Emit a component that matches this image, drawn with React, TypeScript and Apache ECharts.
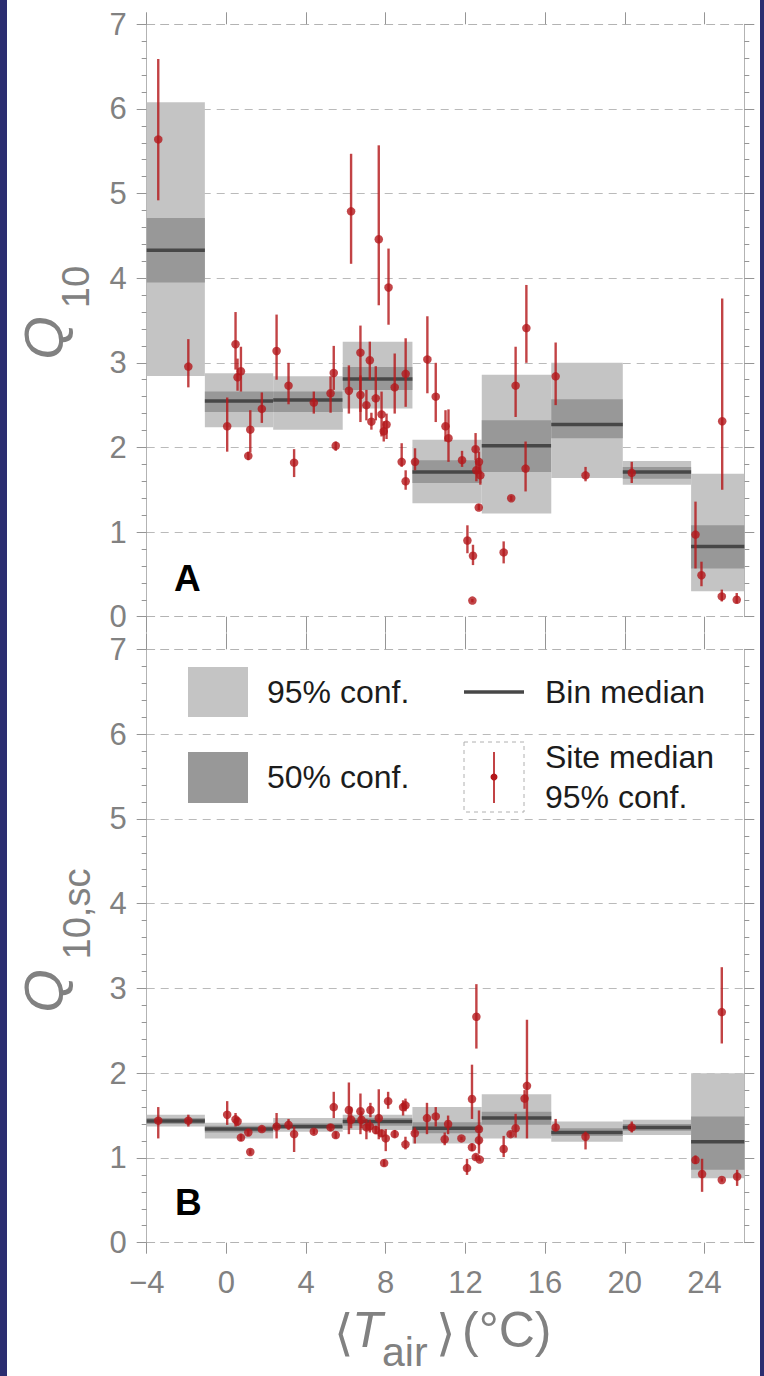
import React, { useEffect, useRef } from "react";
import * as echarts from "echarts";

const W = 764;
const H = 1376;

// Temperature bins (°C)
const binEdges = [-4, -1.08, 2.35, 5.84, 9.34, 12.82, 16.31, 19.9, 23.33, 26];

// Panel A: Q10 per bin
const q10BinMedian = [4.33, 2.55, 2.56, 2.81, 1.71, 2.02, 2.27, 1.71, 0.83];
const q10BinLo95 = [2.845, 2.24, 2.21, 2.46, 1.34, 1.22, 1.64, 1.56, 0.3];
const q10BinHi95 = [6.08, 2.876, 2.84, 3.25, 2.09, 2.86, 3.0, 1.84, 1.69];
const q10BinLo50 = [3.95, 2.42, 2.42, 2.68, 1.58, 1.71, 2.11, 1.63, 0.57];
const q10BinHi50 = [4.71, 2.66, 2.66, 2.95, 1.85, 2.32, 2.57, 1.77, 1.08];

// Panel B: Q10,sc per bin
const q10scBinMedian = [1.435, 1.34, 1.37, 1.43, 1.35, 1.47, 1.3, 1.36, 1.19];
const q10scBinLo95 = [1.37, 1.23, 1.31, 1.33, 1.17, 1.23, 1.19, 1.27, 0.76];
const q10scBinHi95 = [1.51, 1.415, 1.47, 1.51, 1.6, 1.75, 1.43, 1.45, 2.0];
const q10scBinLo50 = [1.4, 1.3, 1.34, 1.38, 1.29, 1.39, 1.26, 1.32, 0.86];
const q10scBinHi50 = [1.47, 1.38, 1.41, 1.47, 1.42, 1.545, 1.35, 1.4, 1.49];

// Panel A: site medians with 95% intervals
const siteTempA = [-3.42, -1.91, 0.04, 0.46, 0.56, 0.73, 1.1, 1.2, 1.78, 2.52, 3.12, 3.4, 4.39, 5.23, 5.39, 5.49, 6.15, 6.26, 6.73, 6.73, 7.03, 7.2, 7.28, 7.5, 7.65, 7.79, 7.9, 8.04, 8.14, 8.45, 8.8, 9.0, 9.0, 9.47, 10.09, 10.51, 11.0, 11.15, 11.83, 12.1, 12.35, 12.38, 12.51, 12.55, 12.68, 12.75, 12.67, 13.92, 14.3, 14.52, 15.02, 15.06, 16.53, 18.03, 20.35, 23.55, 23.85, 24.89, 24.87, 25.62];
const siteQ10 = [5.64, 2.955, 2.25, 3.22, 2.83, 2.9, 1.9, 2.21, 2.455, 3.14, 2.73, 1.82, 2.53, 2.64, 2.88, 2.02, 2.67, 4.79, 3.12, 2.62, 2.5, 3.03, 2.305, 2.58, 4.46, 2.39, 2.19, 2.27, 3.89, 2.71, 1.83, 2.87, 1.6, 1.83, 3.04, 2.6, 2.25, 2.11, 1.85, 0.9, 0.19, 0.72, 1.98, 1.73, 1.83, 1.67, 1.29, 0.76, 1.4, 2.73, 1.75, 3.41, 2.84, 1.67, 1.7, 0.97, 0.49, 2.31, 0.24, 0.2];
const siteQ10Lo = [4.92, 2.71, 1.95, 2.92, 2.67, 2.66, 1.85, 1.94, 2.29, 2.8, 2.51, 1.65, 2.4, 2.41, 2.68, 1.96, 2.4, 4.17, 2.3, 2.42, 2.32, 2.8, 2.21, 2.32, 3.68, 2.13, 2.07, 2.1, 3.45, 2.4, 1.77, 2.48, 1.5, 1.73, 2.64, 2.3, 2.07, 1.83, 1.77, 0.75, 0.17, 0.61, 1.85, 1.6, 1.7, 1.56, 1.26, 0.63, 1.37, 2.36, 1.48, 3.0, 2.5, 1.6, 1.58, 0.57, 0.36, 1.5, 0.18, 0.16];
const siteQ10Hi = [6.59, 3.28, 2.59, 3.6, 3.05, 3.19, 1.95, 2.44, 2.65, 3.57, 3.0, 1.98, 2.66, 2.84, 3.2, 2.07, 2.97, 5.47, 3.44, 2.85, 2.68, 3.25, 2.41, 2.96, 5.57, 2.66, 2.31, 2.4, 4.35, 3.11, 2.05, 3.29, 1.73, 1.99, 3.55, 3.0, 2.44, 2.45, 1.96, 1.08, 0.21, 0.85, 2.17, 1.85, 1.95, 1.8, 1.33, 0.89, 1.43, 3.19, 2.07, 3.92, 3.24, 1.77, 1.83, 1.36, 0.65, 3.76, 0.32, 0.28];

// Panel B: site medians with 95% intervals
const siteTempB = [-3.42, -1.91, 0.04, 0.46, 0.56, 0.73, 1.1, 1.2, 1.78, 2.52, 3.12, 3.4, 4.39, 5.23, 5.39, 5.49, 6.15, 6.26, 6.73, 6.78, 7.03, 7.2, 7.23, 7.5, 7.65, 7.79, 7.92, 8.0, 8.12, 8.45, 8.87, 8.99, 8.99, 9.46, 10.07, 10.51, 10.96, 11.13, 11.8, 12.08, 12.33, 12.33, 12.52, 12.55, 12.68, 12.68, 12.72, 13.92, 14.27, 14.52, 14.97, 15.09, 16.53, 18.03, 20.35, 23.55, 23.88, 24.87, 24.87, 25.64];
const siteQ10sc = [1.44, 1.44, 1.51, 1.455, 1.43, 1.24, 1.3, 1.07, 1.34, 1.37, 1.39, 1.28, 1.31, 1.36, 1.6, 1.27, 1.565, 1.45, 1.55, 1.45, 1.36, 1.375, 1.565, 1.33, 1.47, 1.29, 0.94, 1.23, 1.67, 1.28, 1.6, 1.62, 1.16, 1.29, 1.47, 1.49, 1.22, 1.4, 1.23, 0.88, 1.695, 1.125, 1.01, 2.665, 1.34, 1.21, 0.98, 1.105, 1.28, 1.35, 1.7, 1.85, 1.36, 1.25, 1.36, 0.975, 0.81, 2.72, 0.74, 0.78];
const siteQ10scLo = [1.23, 1.37, 1.39, 1.37, 1.38, 1.2, 1.26, 1.04, 1.31, 1.23, 1.33, 1.07, 1.28, 1.32, 1.47, 1.23, 1.28, 1.35, 1.28, 1.35, 1.22, 1.3, 1.48, 1.28, 1.22, 1.25, 0.9, 1.08, 1.58, 1.24, 1.5, 1.55, 1.1, 1.17, 1.28, 1.37, 1.15, 1.28, 1.21, 0.8, 1.46, 1.08, 0.98, 2.29, 1.05, 1.15, 0.96, 1.01, 1.25, 1.24, 1.58, 1.23, 1.32, 1.1, 1.3, 0.93, 0.6, 2.35, 0.72, 0.67];
const siteQ10scHi = [1.6, 1.51, 1.67, 1.53, 1.48, 1.28, 1.34, 1.1, 1.37, 1.53, 1.46, 1.37, 1.34, 1.4, 1.78, 1.31, 1.89, 1.6, 1.76, 1.55, 1.46, 1.45, 1.65, 1.38, 1.81, 1.33, 0.98, 1.34, 1.78, 1.33, 1.68, 1.7, 1.25, 1.36, 1.65, 1.6, 1.3, 1.5, 1.25, 0.99, 2.1, 1.17, 1.04, 3.05, 1.56, 1.28, 1.0, 1.26, 1.31, 1.52, 1.8, 2.63, 1.46, 1.31, 1.43, 1.03, 0.99, 3.25, 0.76, 0.86];

const tempTicks = [-4, 0, 4, 8, 12, 16, 20, 24];

const FONT = "'Liberation Sans', Arial, Helvetica, sans-serif";
const LIGHT = "#c4c4c4";
const DARK = "#989898";
const MEDIAN = "#474747";
const RED = "#b3181b";
const BAR = "rgba(180, 26, 28, 0.82)";
const AXIS_GRAY = "#b3b3b3";
const TICK_GRAY = "#959595";
const LABEL_GRAY = "#818181";

const gridA = { left: 146.7, top: 24.3, width: 597.6, height: 592.4 };
const gridB = { left: 146.7, top: 649.3, width: 597.6, height: 593.4 };

const fmtTemp = (v: number) => (v < 0 ? "\u2212" + Math.abs(v) : String(v));

function binRows(med: number[], lo95: number[], hi95: number[], lo50: number[], hi50: number[]) {
  return med.map((m, i) => [binEdges[i], binEdges[i + 1], lo95[i], hi95[i], lo50[i], hi50[i], m]);
}

function boxRenderItem(_params: any, api: any) {
  const x0 = api.value(0);
  const x1 = api.value(1);
  const a95 = api.coord([x0, api.value(3)]);
  const b95 = api.coord([x1, api.value(2)]);
  const a50 = api.coord([x0, api.value(5)]);
  const b50 = api.coord([x1, api.value(4)]);
  const m0 = api.coord([x0, api.value(6)]);
  const m1 = api.coord([x1, api.value(6)]);
  return {
    type: "group",
    children: [
      { type: "rect", shape: { x: a95[0], y: a95[1], width: b95[0] - a95[0], height: b95[1] - a95[1] }, style: { fill: LIGHT } },
      { type: "rect", shape: { x: a50[0], y: a50[1], width: b50[0] - a50[0], height: b50[1] - a50[1] }, style: { fill: DARK } },
      { type: "line", shape: { x1: m0[0], y1: m0[1], x2: m1[0], y2: m1[1] }, style: { stroke: MEDIAN, lineWidth: 3.5 } },
    ],
  };
}

function errRenderItem(_params: any, api: any) {
  const top = api.coord([api.value(0), api.value(2)]);
  const bot = api.coord([api.value(0), api.value(1)]);
  return {
    type: "line",
    shape: { x1: top[0], y1: top[1], x2: bot[0], y2: bot[1] },
    style: { stroke: BAR, lineWidth: 2.4 },
  };
}

function xAxesFor(gridIndex: number, showLabels: boolean) {
  const lineStyle = { color: AXIS_GRAY, type: [8, 6] as any, width: 1 };
  return [
    {
      type: "value",
      gridIndex,
      position: "bottom",
      min: -4,
      max: 26,
      interval: 4,
      axisLine: { show: true, onZero: false, lineStyle },
      axisTick: { show: true, length: showLabels ? 11 : 16, customValues: tempTicks, lineStyle: { color: TICK_GRAY } },
      axisLabel: {
        show: showLabels,
        customValues: tempTicks,
        margin: 24,
        fontSize: 31,
        color: LABEL_GRAY,
        fontFamily: FONT,
        formatter: fmtTemp,
      },
      splitLine: { show: false },
    },
    {
      type: "value",
      gridIndex,
      position: "top",
      min: -4,
      max: 26,
      interval: 4,
      axisLine: { show: true, onZero: false, lineStyle },
      axisTick: { show: true, length: showLabels ? 16 : 12, customValues: tempTicks, lineStyle: { color: TICK_GRAY } },
      axisLabel: { show: false },
      splitLine: { show: false },
    },
  ];
}

function yAxesFor(gridIndex: number) {
  const common = {
    type: "value",
    gridIndex,
    min: 0,
    max: 7,
    interval: 1,
    axisLine: { show: true, onZero: false, lineStyle: { color: AXIS_GRAY, width: 1 } },
    axisTick: { show: true, length: 10, lineStyle: { color: TICK_GRAY } },
    minorTick: { show: true, splitNumber: 5, length: 5, lineStyle: { color: TICK_GRAY } },
  };
  return [
    {
      ...common,
      position: "left",
      axisLabel: { show: true, margin: 20, fontSize: 31, color: LABEL_GRAY, fontFamily: FONT },
      splitLine: { show: true, lineStyle: { color: "#bababa", type: [8, 6], width: 1 } },
    },
    {
      ...common,
      position: "right",
      axisLabel: { show: false },
      splitLine: { show: false },
    },
  ];
}

function panelSeries(
  xIdx: number,
  yIdx: number,
  bins: number[][],
  temps: number[],
  vals: number[],
  lo: number[],
  hi: number[]
) {
  return [
    {
      type: "custom",
      xAxisIndex: xIdx,
      yAxisIndex: yIdx,
      renderItem: boxRenderItem,
      data: bins,
      encode: { x: [0, 1], y: [2, 3] },
      clip: false,
      z: 1,
      silent: true,
    },
    {
      type: "custom",
      xAxisIndex: xIdx,
      yAxisIndex: yIdx,
      renderItem: errRenderItem,
      data: temps.map((t, i) => [t, lo[i], hi[i]]),
      encode: { x: 0, y: [1, 2] },
      clip: false,
      z: 2,
      silent: true,
    },
    {
      type: "scatter",
      xAxisIndex: xIdx,
      yAxisIndex: yIdx,
      data: temps.map((t, i) => [t, vals[i]]),
      symbol: "circle",
      symbolSize: 8.5,
      itemStyle: { color: RED },
      z: 3,
      silent: true,
    },
  ];
}

function titleText(text: string, x: number, y: number, size: number, extra: any = {}) {
  return {
    type: "text",
    x,
    y,
    z: 10,
    style: {
      text,
      fontSize: size,
      fontFamily: FONT,
      fill: LABEL_GRAY,
      align: "left",
      verticalAlign: "middle",
      ...extra,
    },
  };
}

function legendText(text: string, x: number, y: number) {
  return {
    type: "text",
    x,
    y,
    z: 10,
    style: { text, fontSize: 32, fontFamily: FONT, fill: "#1c1c1c", align: "left", verticalAlign: "middle" },
  };
}

export default function App() {
  const ref = useRef<HTMLDivElement>(null);

  useEffect(() => {
    document.body.style.margin = "0";
    if (!ref.current) return;
    const chart = echarts.init(ref.current, null, { renderer: "svg" });

    const binsA = binRows(q10BinMedian, q10BinLo95, q10BinHi95, q10BinLo50, q10BinHi50);
    const binsB = binRows(q10scBinMedian, q10scBinLo95, q10scBinHi95, q10scBinLo50, q10scBinHi50);

    const rot = Math.PI / 2;

    chart.setOption({
      animation: false,
      backgroundColor: "#ffffff",
      grid: [gridA, gridB],
      xAxis: [...xAxesFor(0, false), ...xAxesFor(1, true)],
      yAxis: [...yAxesFor(0), ...yAxesFor(1)],
      series: [
        ...panelSeries(0, 0, binsA, siteTempA, siteQ10, siteQ10Lo, siteQ10Hi),
        ...panelSeries(2, 2, binsB, siteTempB, siteQ10sc, siteQ10scLo, siteQ10scHi),
      ],
      graphic: [
        // side frame
        { type: "rect", shape: { x: 0, y: 0, width: 7, height: H }, style: { fill: "#2b2d70" }, z: 20 },
        { type: "rect", shape: { x: 760, y: 0, width: 4, height: H }, style: { fill: "#2b2d70" }, z: 20 },

        // panel letters
        { type: "text", x: 174, y: 578, z: 10, style: { text: "A", fontSize: 37, fontWeight: "bold", fontFamily: FONT, fill: "#000", verticalAlign: "middle" } },
        { type: "text", x: 175, y: 1202, z: 10, style: { text: "B", fontSize: 37, fontWeight: "bold", fontFamily: FONT, fill: "#000", verticalAlign: "middle" } },

        // y-axis titles
        { ...titleText("Q", 43, 338, 56, { fontStyle: "italic", align: "center" }), rotation: rot },
        { ...titleText("10", 76, 287, 38, { align: "center" }), rotation: rot },
        { ...titleText("Q", 43, 991, 56, { fontStyle: "italic", align: "center" }), rotation: rot },
        { ...titleText("10,sc", 77, 914, 38, { align: "center" }), rotation: rot },

        // x-axis title
        titleText("\u27E8", 334, 1333, 50, { fontFamily: "'DejaVu Sans', sans-serif" }),
        titleText("T", 352, 1330, 50, { fontStyle: "italic" }),
        titleText("air", 382, 1352, 41, { lineHeight: 30 }),
        titleText("\u27E9", 436, 1333, 50, { fontFamily: "'DejaVu Sans', sans-serif" }),
        titleText("(\u00B0C)", 462, 1330, 50),

        // legend
        { type: "rect", shape: { x: 188, y: 667, width: 60, height: 50 }, style: { fill: LIGHT }, z: 10 },
        { type: "rect", shape: { x: 188, y: 752, width: 60, height: 51 }, style: { fill: DARK }, z: 10 },
        legendText("95% conf.", 267, 692),
        legendText("50% conf.", 267, 777),
        { type: "line", shape: { x1: 464, y1: 692, x2: 524, y2: 692 }, style: { stroke: MEDIAN, lineWidth: 3.5 }, z: 10 },
        legendText("Bin median", 545, 692),
        { type: "rect", shape: { x: 464, y: 742, width: 60, height: 70 }, style: { fill: "none", stroke: "#b0b0b0", lineWidth: 1, lineDash: [4, 4] }, z: 10 },
        { type: "line", shape: { x1: 494, y1: 752, x2: 494, y2: 803 }, style: { stroke: BAR, lineWidth: 2 }, z: 10 },
        { type: "circle", shape: { cx: 494, cy: 777, r: 3.5 }, style: { fill: RED }, z: 11 },
        legendText("Site median", 545, 757),
        legendText("95% conf.", 545, 797),
      ],
    });

    return () => chart.dispose();
  }, []);

  return <div ref={ref} style={{ width: W, height: H }} />;
}
